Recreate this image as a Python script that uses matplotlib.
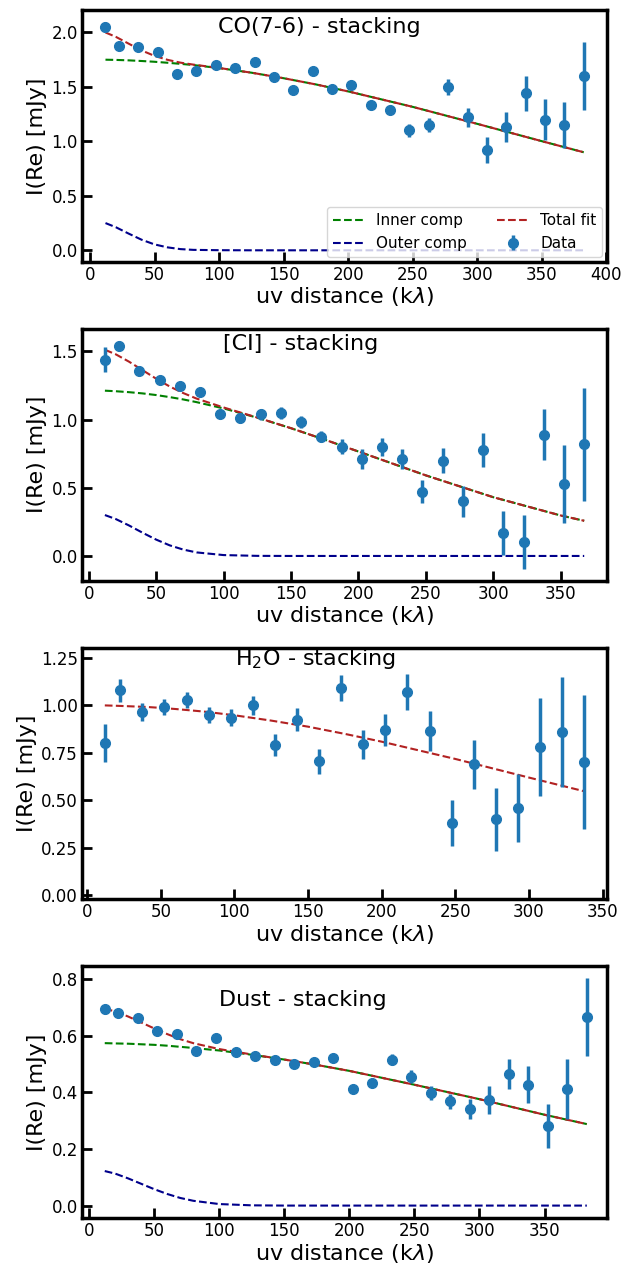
import numpy as np
import matplotlib
matplotlib.use('Agg')
import matplotlib.pyplot as plt
from matplotlib.ticker import MultipleLocator

# uv bins (k lambda)
uv = [12, 22.5, 37.5, 52.5, 67.5, 82.5, 97.5, 112.5, 127.5, 142.5, 157.5, 172.5, 187.5,
      202.5, 217.5, 232.5, 247.5, 262.5, 277.5, 292.5, 307.5, 322.5, 337.5, 352.5, 367.5, 382.5]

# CO(7-6)
co_re = [2.05, 1.88, 1.87, 1.82, 1.62, 1.65, 1.70, 1.67, 1.73, 1.59, 1.47, 1.65, 1.48,
         1.52, 1.33, 1.29, 1.10, 1.15, 1.50, 1.22, 0.92, 1.13, 1.44, 1.20, 1.15, 1.60]
co_err = [0.05, 0.02, 0.02, 0.02, 0.02, 0.02, 0.02, 0.02, 0.02, 0.02, 0.02, 0.02, 0.025,
          0.03, 0.03, 0.04, 0.06, 0.066, 0.07, 0.086, 0.12, 0.14, 0.16, 0.19, 0.21, 0.31]

# [CI]
ci_re = [1.44, 1.54, 1.36, 1.29, 1.25, 1.20, 1.04, 1.01, 1.04, 1.05, 0.98, 0.875, 0.80,
         0.71, 0.80, 0.71, 0.47, 0.70, 0.40, 0.78, 0.17, 0.10, 0.89, 0.53, 0.82]
ci_err = [0.09, 0.04, 0.03, 0.025, 0.025, 0.025, 0.03, 0.035, 0.04, 0.042, 0.043, 0.04, 0.055,
          0.074, 0.068, 0.074, 0.084, 0.095, 0.113, 0.124, 0.162, 0.198, 0.188, 0.286, 0.415]

# H2O
h2o_re = [0.80, 1.08, 0.965, 0.99, 1.03, 0.95, 0.935, 1.00, 0.79, 0.925, 0.705, 1.09,
          0.795, 0.87, 1.07, 0.865, 0.38, 0.69, 0.40, 0.46, 0.78, 0.86, 0.70]
h2o_err = [0.10, 0.06, 0.047, 0.042, 0.042, 0.042, 0.044, 0.05, 0.059, 0.059, 0.065, 0.068,
           0.076, 0.086, 0.095, 0.106, 0.12, 0.128, 0.165, 0.18, 0.258, 0.292, 0.353]

# Dust
dust_re = [0.694, 0.680, 0.663, 0.617, 0.606, 0.547, 0.593, 0.541, 0.527, 0.516, 0.499, 0.507, 0.522,
           0.412, 0.432, 0.516, 0.456, 0.398, 0.368, 0.342, 0.373, 0.465, 0.427, 0.282, 0.412, 0.665]
dust_err = [0.016, 0.01, 0.01, 0.01, 0.01, 0.01, 0.01, 0.01, 0.01, 0.01, 0.01, 0.01, 0.012,
            0.012, 0.013, 0.018, 0.022, 0.025, 0.028, 0.035, 0.048, 0.052, 0.065, 0.077, 0.105, 0.138]

# model curves
uv_mod = [12, 20, 30, 40, 50, 60, 70, 80, 100, 125, 150, 175, 200, 250, 300, 350, 382.5]
co_inner = [1.750, 1.748, 1.744, 1.738, 1.731, 1.722, 1.712, 1.701, 1.673, 1.631, 1.580, 1.523,
            1.459, 1.317, 1.161, 1.002, 0.900]
co_outer = [0.250, 0.212, 0.153, 0.097, 0.054, 0.027, 0.011, 0.004, 0.001, 0, 0, 0, 0, 0, 0, 0, 0]
co_total = [2.000, 1.960, 1.897, 1.835, 1.785, 1.749, 1.723, 1.705, 1.674, 1.631, 1.580, 1.523,
            1.459, 1.317, 1.161, 1.002, 0.900]

uv_mod_ci = [12, 20, 30, 40, 50, 60, 70, 80, 100, 125, 150, 175, 200, 250, 300, 350, 367.5]
ci_inner = [1.212, 1.208, 1.201, 1.192, 1.180, 1.165, 1.148, 1.128, 1.082, 1.014, 0.937, 0.853,
            0.766, 0.591, 0.431, 0.297, 0.258]
ci_outer = [0.300, 0.271, 0.223, 0.170, 0.120, 0.078, 0.047, 0.026, 0.0065, 0.0007, 0, 0, 0, 0, 0, 0, 0]
ci_total = [1.512, 1.479, 1.424, 1.362, 1.300, 1.243, 1.195, 1.154, 1.089, 1.015, 0.937, 0.853,
            0.766, 0.591, 0.431, 0.297, 0.258]

uv_mod_h2o = [12, 20, 30, 40, 50, 60, 70, 80, 100, 125, 150, 175, 200, 250, 300, 337.5]
h2o_total = [1.000, 0.998, 0.995, 0.992, 0.987, 0.981, 0.974, 0.967, 0.948, 0.920, 0.888, 0.850,
             0.809, 0.718, 0.620, 0.548]

dust_inner = [0.574, 0.573, 0.572, 0.570, 0.568, 0.565, 0.561, 0.557, 0.548, 0.533, 0.516, 0.497,
              0.476, 0.427, 0.376, 0.321, 0.288]
dust_outer = [0.122, 0.113, 0.096, 0.077, 0.058, 0.041, 0.027, 0.017, 0.0054, 0.0009, 0, 0, 0, 0, 0, 0, 0]
dust_total = [0.696, 0.686, 0.668, 0.647, 0.626, 0.606, 0.588, 0.574, 0.553, 0.534, 0.516, 0.497,
              0.476, 0.427, 0.376, 0.321, 0.288]


def style(ax):
    for s in ax.spines.values():
        s.set_linewidth(2.5)
    ax.tick_params(direction='in', length=7, width=2, labelsize=12, pad=3)
    ax.set_xlabel(r'uv distance (k$\lambda$)', fontsize=16, labelpad=1)
    ax.set_ylabel('I(Re) [mJy]', fontsize=16, labelpad=3)


def panel(ax, x, y, err, xm, total, inner=None, outer=None):
    handles = []
    if inner is not None:
        h1, = ax.plot(xm, inner, '--', color='green', lw=1.5, label='Inner comp')
        h2, = ax.plot(xm, outer, '--', color='darkblue', lw=1.5, label='Outer comp')
        handles += [h1, h2]
    h3, = ax.plot(xm, total, '--', color='firebrick', lw=1.5, label='Total fit')
    h4 = ax.errorbar(x, y, yerr=err, fmt='o', color='tab:blue', ms=7, elinewidth=2.5,
                     capsize=0, label='Data')
    handles += [h3, h4]
    style(ax)
    return handles


def main():
    fig, axes = plt.subplots(4, 1, figsize=(6.23, 12.68), dpi=100)
    fig.subplots_adjust(left=0.1316, right=0.9743, top=0.992, bottom=0.0394, hspace=0.267)

    ax = axes[0]
    hh = panel(ax, uv, co_re, co_err, uv_mod, co_total, co_inner, co_outer)
    ax.legend(handles=hh, loc='lower right', ncol=2, fontsize=11, borderaxespad=0.3)
    ax.text(0.452, 0.934, 'CO(7-6) - stacking', transform=ax.transAxes, fontsize=16,
            ha='center', va='center')
    ax.set_xlim(-6.2, 400.5)
    ax.set_ylim(-0.105, 2.205)

    ax = axes[1]
    panel(ax, uv[:25], ci_re, ci_err, uv_mod_ci, ci_total, ci_inner, ci_outer)
    ax.text(0.417, 0.94, '[CI] - stacking', transform=ax.transAxes, fontsize=16,
            ha='center', va='center')
    ax.set_xlim(-5, 384.4)
    ax.set_ylim(-0.18, 1.665)

    ax = axes[2]
    panel(ax, uv[:23], h2o_re, h2o_err, uv_mod_h2o, h2o_total)
    ax.text(0.444, 0.955, r'H$_2$O - stacking', transform=ax.transAxes, fontsize=16,
            ha='center', va='center')
    ax.set_xlim(-3.5, 353)
    ax.set_ylim(-0.021, 1.304)
    ax.yaxis.set_major_locator(MultipleLocator(0.25))
    ax.yaxis.set_major_formatter('{x:.2f}')

    ax = axes[3]
    panel(ax, uv, dust_re, dust_err, uv_mod, dust_total, dust_inner, dust_outer)
    ax.text(0.421, 0.865, 'Dust - stacking', transform=ax.transAxes, fontsize=16,
            ha='center', va='center')
    ax.set_xlim(-5.5, 398)
    ax.set_ylim(-0.044, 0.845)

    fig.savefig('out.png', dpi=100)


if __name__ == "__main__":
    main()
